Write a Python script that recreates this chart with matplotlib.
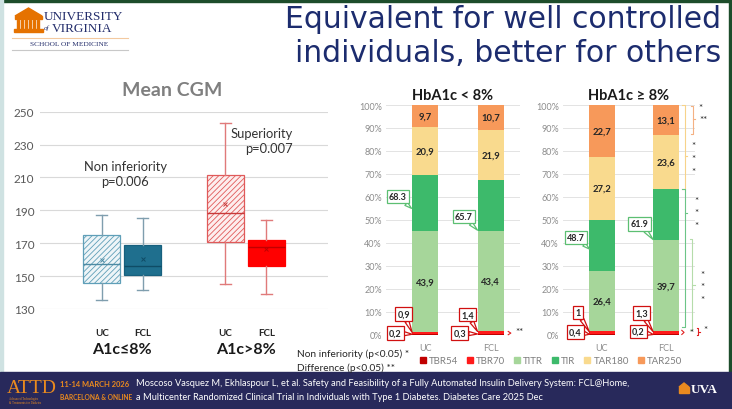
import matplotlib
matplotlib.use('Agg')
import matplotlib.pyplot as plt
from matplotlib.patches import Rectangle, Patch, Polygon
import matplotlib.transforms as mtransforms
import numpy as np

plt.rcParams['font.family'] = ['Lato', 'DejaVu Sans']
plt.rcParams['hatch.linewidth'] = 0.6

W, H = 732, 410

# ------------------------------------------------------------------
# data : mean CGM box plot (mg/dL)
# ------------------------------------------------------------------
box_labels = ['UC', 'FCL', 'UC', 'FCL']
box_pos = [1, 2, 4, 5]
whis_lo = [135.5, 141.7, 145.0, 139.0]
q1 = [145.6, 150.9, 170.9, 156.2]
med = [157.4, 156.4, 188.4, 167.5]
mean = [160.0, 160.6, 193.9, 166.5]
q3 = [175.0, 169.0, 211.7, 172.2]
whis_hi = [187.4, 185.5, 243.0, 184.0]
group_labels = ['A1c≤8%', 'A1c>8%']
cgm_ticks = [130, 150, 170, 190, 210, 230, 250]

# ------------------------------------------------------------------
# data : time in ranges (%) for UC / FCL
# ------------------------------------------------------------------
arms = ['UC', 'FCL']
range_names = ['TBR54', 'TBR70', 'TITR', 'TIR', 'TAR180', 'TAR250']

tbr54_low = [0.2, 0.3]
tbr70_low = [0.9, 1.4]
titr_low = [43.9, 43.4]
tir_low = [68.3, 65.7]
tar180_low = [20.9, 21.9]
tar250_low = [9.7, 10.7]

tbr54_high = [0.4, 0.2]
tbr70_high = [1.0, 1.3]
titr_high = [26.4, 39.7]
tir_high = [48.7, 61.9]
tar180_high = [27.2, 23.6]
tar250_high = [22.7, 13.1]

range_colors = ['#c00000', '#ff1a1a', '#a6d69a', '#3dba6b', '#f9da8e', '#f7995a']


def px_rect(x0, y0, x1, y1):
    return [x0 / W, 1 - y1 / H, (x1 - x0) / W, (y1 - y0) / H]


def comma(v):
    return ('%g' % v).replace('.', ',')


fig = plt.figure(figsize=(W / 100, H / 100), dpi=100)
fig.patch.set_facecolor('white')

# -- background layer in pixel coordinates --
bg = fig.add_axes([0, 0, 1, 1], zorder=-1)
bg.set_xlim(0, W)
bg.set_ylim(H, 0)
bg.axis('off')

bg.add_patch(Rectangle((0, 0), W, 2.5, color='#1d4d2b'))
bg.add_patch(Rectangle((729, 0), 3, 373, color='#1d4d2b'))
bg.add_patch(Rectangle((0, 0), 2.5, 373, color='#cfe2e2'))
bg.add_patch(Rectangle((0, 373), W, 37, color='#28295b'))

# title
title_kw = dict(family='DejaVu Sans', fontsize=21.5, color='#1c2c6e', ha='right', va='center')
bg.text(721, 20, 'Equivalent for well controlled', **title_kw)
bg.text(721, 53, 'individuals, better for others', **title_kw)

# university logo (top left)
orange = '#e57200'
bg.add_patch(Polygon([[15, 17], [28.5, 9], [42, 17]], closed=True, color=orange))
bg.add_patch(Rectangle((15, 17), 27, 3, color=orange))
for cx in np.arange(17, 41, 4):
    bg.add_patch(Rectangle((cx, 20.5), 2, 9, color=orange))
bg.add_patch(Rectangle((14, 30), 29, 3, color=orange))
bg.text(44, 17.5, 'UNIVERSITY', family='Liberation Serif', fontsize=9.5, color='#232d6b', va='center')
bg.text(44, 28, 'of', family='Liberation Serif', fontsize=5, style='italic', color='#232d6b', va='center')
bg.text(52, 29, 'VIRGINIA', family='Liberation Serif', fontsize=9.5, color='#232d6b', va='center')
bg.plot([12, 128], [39, 39], color='#f3c9a0', lw=0.8)
bg.text(30, 45, 'SCHOOL OF MEDICINE', family='Liberation Serif', fontsize=5.3, color='#232d6b', va='center')
bg.plot([12, 128], [50.5, 50.5], color='#c8c8c8', lw=0.8)

# footer
bg.text(7, 389, 'ATTD', family='Liberation Serif', fontsize=14, color='#e98a1f', va='center')
bg.text(9, 401, 'Advanced Technologies\n& Treatments for Diabetes', family='Liberation Serif',
        fontsize=2.2, color='#e98a1f', va='center', linespacing=1.0)
bg.text(60, 385, '11-14 MARCH 2026', fontsize=5.4, fontweight='bold', color='#e98a1f', va='center')
bg.text(60, 398, 'BARCELONA & ONLINE', fontsize=4.8, fontweight='bold', color='#e98a1f', va='center')
bg.text(136, 384, 'Moscoso Vasquez M, Ekhlaspour L, et al. Safety and Feasibility of a Fully Automated '
        'Insulin Delivery System: FCL@Home,', fontsize=6.65, color='white', va='center')
bg.text(136, 398, 'a Multicenter Randomized Clinical Trial in Individuals with Type 1 Diabetes. '
        'Diabetes Care 2025 Dec', fontsize=6.65, color='white', va='center')
bg.add_patch(Polygon([[679, 388], [684, 384], [689, 388]], closed=True, color='#e98a1f'))
bg.add_patch(Rectangle((679, 388), 10, 6, color='#e98a1f'))
bg.text(691, 390, 'UVA', family='Liberation Serif', fontsize=9.5, fontweight='bold', color='white', va='center')

# significance notes
bg.text(297, 354, 'Non inferiority (p<0.05) *', fontsize=7.3, color='#262626', va='center')
bg.text(297, 368, 'Difference (p<0.05) **', fontsize=7.3, color='#262626', va='center')

# ------------------------------------------------------------------
# Mean CGM box plot
# ------------------------------------------------------------------
ax = fig.add_axes(px_rect(40, 112.7, 328, 310))
stats = []
for i in range(len(box_pos)):
    stats.append(dict(whislo=whis_lo[i], q1=q1[i], med=med[i], mean=mean[i],
                      q3=q3[i], whishi=whis_hi[i], fliers=[]))

edge_c = ['#5f9fb8', '#17607e', '#e05a5a', '#ff0000']
face_c = ['#eef5f8', '#1f6f8e', '#fdeeee', '#ff0000']
hatch_c = ['//////', None, '//////', None]
whisk_c = ['#7f9eae', '#7f9eae', '#e07a7a', '#e07a7a']
med_c = ['#4d8aa3', '#0f4c66', '#c83a3a', '#c00000']

bp = ax.bxp(stats, positions=box_pos, widths=0.9, showmeans=True, patch_artist=True,
            capwidths=0.27, manage_ticks=False)
for i, box in enumerate(bp['boxes']):
    box.set_facecolor(face_c[i])
    box.set_edgecolor(edge_c[i])
    box.set_linewidth(0.9)
    if hatch_c[i]:
        box.set_hatch(hatch_c[i])
    bp['medians'][i].set_color(med_c[i])
    bp['medians'][i].set_linewidth(1)
    bp['means'][i].set_marker('x')
    bp['means'][i].set_markersize(3.5)
    bp['means'][i].set_markeredgecolor(med_c[i])
    bp['means'][i].set_markeredgewidth(0.7)
    for k in (2 * i, 2 * i + 1):
        bp['whiskers'][k].set_color(whisk_c[i])
        bp['caps'][k].set_color(whisk_c[i])
        bp['whiskers'][k].set_linewidth(1)
        bp['caps'][k].set_linewidth(1)

ax.set_xlim(-0.5, 6.5)
ax.set_ylim(130, 250)
ax.set_yticks(cgm_ticks)
ax.grid(axis='y', color='#d9d9d9', lw=0.8)
ax.set_axisbelow(True)
for s in ax.spines.values():
    s.set_visible(False)
ax.tick_params(axis='y', length=0, pad=4, labelsize=8.5, labelcolor='#595959')
ax.set_xticks(box_pos, box_labels, fontsize=7, fontweight='bold', color='#262626')
ax.tick_params(axis='x', length=0, pad=14)
trans = mtransforms.blended_transform_factory(ax.transData, ax.transAxes)
for gx, gl in zip([1.5, 4.5], group_labels):
    ax.text(gx, -0.205, gl, transform=trans, ha='center', va='center', fontsize=11.5,
            fontweight='bold', color='#1a1a1a')
ax.text(0.46, 1.115, 'Mean CGM', transform=ax.transAxes, ha='center', va='center',
        fontsize=14, fontweight='bold', color='#7f7f7f')
ax.text(1.57, 0.687, 'Non inferiority\np=0.006', transform=trans, ha='center', va='center',
        fontsize=9.3, color='#333333', linespacing=1.3)
ax.text(5.65, 0.854, 'Superiority\np=0.007', transform=trans, ha='right', va='center',
        fontsize=9.3, color='#333333', linespacing=1.3)


# ------------------------------------------------------------------
# time in range stacked bars
# ------------------------------------------------------------------
def stacked(ax, tbr54, tbr70, titr, tir, tar180, tar250, title):
    x = np.arange(len(arms))
    heights = [np.array(tbr54), np.array(tbr70), np.array(titr),
               np.array(tir) - np.array(titr), np.array(tar180), np.array(tar250)]
    bottom = np.zeros(len(arms))
    for j, h in enumerate(heights):
        cont = ax.bar(x, h, 0.4, bottom=bottom, color=range_colors[j], zorder=2)
        if range_names[j] in ('TITR', 'TAR180', 'TAR250'):
            ax.bar_label(cont, labels=[comma(v) for v in h], label_type='center',
                         fontsize=6.8, fontweight='bold', color='#262626')
        bottom = bottom + h
    ax.set_xlim(-0.6, 1.45)
    ax.set_ylim(0, 100)
    ax.set_yticks(np.arange(0, 101, 10), ['%d%%' % v for v in range(0, 101, 10)])
    ax.set_xticks(x, arms)
    ax.grid(axis='y', color='#e3e3e3', lw=0.7, zorder=0)
    ax.set_axisbelow(True)
    for s in ax.spines.values():
        s.set_visible(False)
    ax.tick_params(length=0, labelsize=6.5, labelcolor='#8c8c8c')
    ax.tick_params(axis='y', pad=3)
    ax.tick_params(axis='x', pad=6)
    ax.set_title(title, fontsize=10.5, fontweight='bold', color='#1a1a1a', pad=4)


def callout(ax, text, xy, xytext, ec):
    ax.annotate(text, xy=xy, xytext=xytext, fontsize=6.5, fontweight='bold', ha='center',
                va='center', color='#262626', annotation_clip=False, zorder=6,
                bbox=dict(boxstyle='square,pad=0.25', fc='white', ec=ec, lw=0.9),
                arrowprops=dict(arrowstyle='wedge,tail_width=0.45,shrink_factor=0.5',
                                fc='white', ec=ec, lw=0.9, shrinkA=0, shrinkB=0))


def bracket(ax, x, y0, y1, ynub, color, arm=0.035):
    ax.plot([x - arm, x, x, x - arm], [y0, y0, y1, y1], color=color, lw=0.8, clip_on=False)
    ax.plot([x, x + arm], [ynub, ynub], color=color, lw=0.8, clip_on=False)


star_kw = dict(fontsize=7, color='#262626', ha='center', va='center', clip_on=False)
green_edge = '#5cbf72'
red_edge = '#d01010'

ax2 = fig.add_axes(px_rect(386, 106, 520, 335.7))
stacked(ax2, tbr54_low, tbr70_low, titr_low, tir_low, tar180_low, tar250_low, 'HbA1c < 8%')
callout(ax2, '%.1f' % tir_low[0], (-0.21, 55), (-0.42, 60.1), green_edge)
callout(ax2, '%.1f' % tir_low[1], (0.8, 45.5), (0.59, 51.5), green_edge)
callout(ax2, comma(tbr70_low[0]), (-0.2, 1.0), (-0.33, 8.9), red_edge)
callout(ax2, comma(tbr54_low[0]), (-0.2, 0.2), (-0.46, 0.7), red_edge)
callout(ax2, comma(tbr70_low[1]), (0.8, 1.4), (0.65, 8.7), red_edge)
callout(ax2, comma(tbr54_low[1]), (0.8, 0.3), (0.53, 0.7), red_edge)
ax2.plot([1.27, 1.31, 1.27], [1.4, 0.7, 0.0], color='#e02020', lw=0.8, clip_on=False)
ax2.text(1.44, 1.5, '**', **star_kw)

ax3 = fig.add_axes(px_rect(563, 106, 695, 335.7))
stacked(ax3, tbr54_high, tbr70_high, titr_high, tir_high, tar180_high, tar250_high, 'HbA1c ≥ 8%')
callout(ax3, '%.1f' % tir_high[0], (-0.19, 37.3), (-0.4, 42.4), green_edge)
callout(ax3, '%.1f' % tir_high[1], (0.8, 41.4), (0.59, 48.3), green_edge)
callout(ax3, comma(tbr70_high[0]), (-0.19, 1.2), (-0.37, 9.7), red_edge)
callout(ax3, comma(tbr54_high[0]), (-0.19, 0.2), (-0.41, 1.2), red_edge)
callout(ax3, comma(tbr70_high[1]), (0.8, 1.3), (0.62, 9.4), red_edge)
callout(ax3, comma(tbr54_high[1]), (0.8, 0.1), (0.57, 1.4), red_edge)

# significance brackets next to the FCL bar
bracket(ax3, 1.42, 99.7, 87.4, 93.7, '#f4b183')
ax3.text(1.54, 99.0, '*', **star_kw)
ax3.text(1.575, 93.6, '**', **star_kw)
bracket(ax3, 1.29, 100, 63.4, 78.0, '#f7d38a')
for yy in (82.3, 76.8, 71.1):
    ax3.text(1.42, yy, '*', **star_kw)
bracket(ax3, 1.29, 63.4, 3.4, 53.0, '#6cc587')
for yy in (58.3, 53.0, 47.5):
    ax3.text(1.48, yy, '*', **star_kw)
bracket(ax3, 1.41, 41.6, 2.0, 21.6, '#b5dcaa')
for yy in (26.4, 20.9, 15.4):
    ax3.text(1.56, yy, '*', **star_kw)
ax3.plot([1.245, 1.28, 1.245], [1.9, 1.0, 0.1], color='#e02020', lw=0.8, clip_on=False)
ax3.text(1.395, 1.0, '*', **star_kw)
bracket(ax3, 1.5, 2.7, -0.3, 1.2, '#e02020', arm=0.02)
ax3.text(1.61, 2.3, '*', **star_kw)

# legend of the ranges
handles = [Patch(color=c, label=n) for c, n in zip(range_colors, range_names)]
fig.legend(handles=handles, loc='center', bbox_to_anchor=(551 / W, 1 - 362 / H), ncol=6,
           frameon=False, fontsize=7, handlelength=0.6, handleheight=0.6, handletextpad=0.35,
           columnspacing=0.9, labelcolor='#7f7f7f', borderaxespad=0)

fig.savefig('out.png', dpi=100)
